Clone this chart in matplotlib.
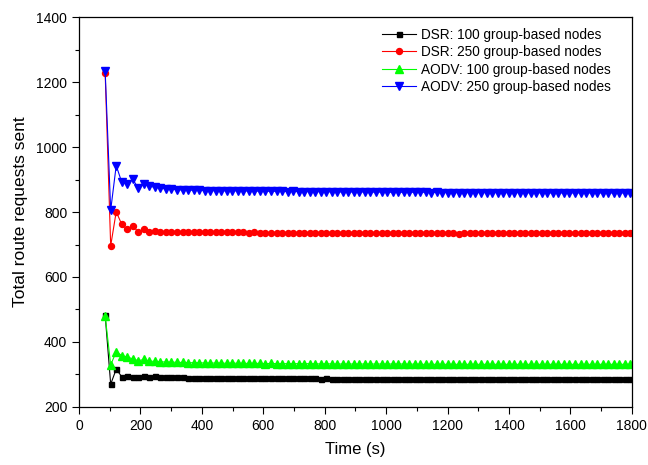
import numpy as np
import matplotlib
matplotlib.use("Agg")
import matplotlib.pyplot as plt
from matplotlib.ticker import MultipleLocator

plt.rcParams['font.family'] = ['Liberation Sans', 'DejaVu Sans']

# sample times (s)
times = np.arange(85, 1800, 18)

dsr_100 = [
    483, 270, 316, 293, 295, 291, 293, 295, 293, 294, 292, 291,
    292, 291, 291, 290, 290, 290, 290, 289, 289, 289, 289, 289,
    289, 289, 289, 288, 289, 288, 288, 288, 288, 288, 288, 288,
    288, 288, 288, 287, 288, 287, 287, 287, 287, 287, 287, 287,
    287, 287, 287, 287, 287, 287, 287, 287, 287, 287, 287, 287,
    287, 287, 287, 287, 287, 286, 287, 287, 287, 287, 287, 287,
    287, 287, 287, 287, 287, 287, 287, 287, 287, 287, 287, 287,
    287, 287, 287, 287, 287, 287, 287, 287, 287, 287, 287, 287,
]
dsr_250 = [
    1228, 696, 801, 762, 747, 758, 738, 748, 739, 741, 740, 739,
    739, 738, 738, 739, 738, 738, 738, 737, 738, 737, 737, 737,
    737, 737, 736, 737, 736, 736, 736, 736, 736, 736, 735, 736,
    735, 735, 735, 735, 735, 735, 735, 735, 735, 734, 735, 734,
    734, 734, 734, 734, 734, 734, 734, 734, 734, 734, 734, 734,
    734, 734, 734, 734, 733, 734, 734, 734, 734, 734, 734, 734,
    734, 734, 734, 734, 734, 734, 734, 734, 734, 734, 734, 734,
    734, 734, 734, 734, 734, 734, 734, 734, 734, 734, 734, 734,
]
aodv_100 = [
    480, 329, 370, 358, 353, 348, 342, 346, 341, 340, 339, 338,
    338, 337, 337, 336, 336, 336, 335, 335, 335, 335, 334, 335,
    334, 334, 334, 334, 334, 333, 334, 333, 333, 333, 333, 333,
    333, 333, 333, 332, 333, 332, 332, 332, 332, 332, 332, 332,
    332, 332, 332, 332, 332, 332, 332, 331, 332, 331, 331, 331,
    331, 331, 331, 331, 331, 331, 331, 331, 331, 331, 331, 331,
    331, 331, 331, 331, 331, 331, 331, 331, 331, 331, 331, 331,
    331, 331, 331, 331, 331, 331, 331, 331, 331, 331, 331, 331,
]
aodv_250 = [
    1235, 806, 943, 892, 887, 901, 873, 885, 880, 876, 874, 871,
    870, 869, 868, 868, 867, 867, 866, 866, 866, 866, 865, 866,
    865, 865, 865, 864, 865, 864, 864, 864, 864, 863, 864, 863,
    863, 863, 863, 863, 862, 863, 862, 862, 862, 862, 862, 862,
    862, 861, 862, 861, 861, 861, 861, 861, 861, 861, 861, 860,
    861, 860, 860, 860, 860, 860, 860, 860, 860, 860, 860, 860,
    860, 860, 860, 860, 860, 859, 860, 859, 859, 859, 859, 859,
    859, 859, 859, 859, 859, 859, 859, 859, 859, 859, 859, 859,
]

labels = ["DSR: 100 group-based nodes", "DSR: 250 group-based nodes",
          "AODV: 100 group-based nodes", "AODV: 250 group-based nodes"]

fig = plt.figure(figsize=(6.48, 4.65), dpi=100)
ax = fig.add_axes([0.122, 0.125, 0.853, 0.838])

lw = 0.8
ax.plot(times, dsr_100, '-s', color='black', lw=lw, ms=3.6, label=labels[0])
ax.plot(times, dsr_250, '-o', color='#ff0000', lw=lw, ms=4.3, label=labels[1])
ax.plot(times, aodv_100, '-^', color='#00ff00', lw=lw, ms=6.3, label=labels[2])
ax.plot(times, aodv_250, '-v', color='#0000ff', lw=lw, ms=6.3, label=labels[3])

ax.set_xlim(0, 1800)
ax.set_ylim(200, 1400)
ax.xaxis.set_major_locator(MultipleLocator(200))
ax.xaxis.set_minor_locator(MultipleLocator(100))
ax.yaxis.set_major_locator(MultipleLocator(200))
ax.yaxis.set_minor_locator(MultipleLocator(100))
ax.tick_params(which='major', direction='out', length=5, width=0.8, labelsize=10)
ax.tick_params(which='minor', direction='out', length=3, width=0.8)
for s in ax.spines.values():
    s.set_linewidth(0.9)

ax.set_xlabel("Time (s)", fontsize=12, labelpad=7)
ax.set_ylabel("Total route requests sent", fontsize=12.5, labelpad=6)

ax.legend(loc='upper right', bbox_to_anchor=(0.972, 0.987), frameon=False,
          fontsize=9.8, handlelength=2.5, handletextpad=0.35,
          labelspacing=0.25, borderaxespad=0)

fig.savefig("out.png", dpi=100)
